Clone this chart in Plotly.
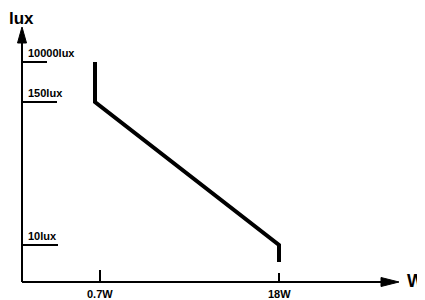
import plotly.graph_objects as go

# schematic coordinates (x: 0..425 left->right, y: 0..300 bottom->top)
lux_labels = ["10lux", "150lux", "10000lux"]
lux_levels = [55, 198, 238]
watt_labels = ["0.7W", "18W"]
watt_positions = [100, 279]

curve_x = [95, 95, 279, 279]
curve_y = [238, 198, 55, 38]

origin_x, origin_y = 22, 18
x_axis_end = 399
y_axis_end = 273
lux_tick_ends = [58, 57, 47]
watt_tick_tops = [30, 27]

FONT = "Liberation Sans, Arial, sans-serif"
BODY_MARGIN = 8  # default page margin of the html body

fig = go.Figure()

# curve
fig.add_trace(go.Scatter(x=curve_x, y=curve_y, mode="lines",
                         line=dict(color="black", width=4), hoverinfo="skip"))

# axis lines
fig.add_trace(go.Scatter(x=[origin_x, x_axis_end - 14], y=[origin_y, origin_y], mode="lines",
                         line=dict(color="black", width=2), hoverinfo="skip"))
fig.add_trace(go.Scatter(x=[origin_x, origin_x], y=[origin_y, y_axis_end - 12], mode="lines",
                         line=dict(color="black", width=2), hoverinfo="skip"))

shapes = [
    dict(type="path", xref="x", yref="y",
         path=f"M {x_axis_end-18},{origin_y+4.5} L {x_axis_end},{origin_y} L {x_axis_end-18},{origin_y-4.5} Z",
         fillcolor="black", line=dict(color="black", width=1)),
    dict(type="path", xref="x", yref="y",
         path=f"M {origin_x-4.5},{y_axis_end-16} L {origin_x},{y_axis_end} L {origin_x+4.5},{y_axis_end-16} Z",
         fillcolor="black", line=dict(color="black", width=1)),
]

# lux ticks
for lvl, end in zip(lux_levels, lux_tick_ends):
    fig.add_trace(go.Scatter(x=[origin_x, end], y=[lvl, lvl], mode="lines",
                             line=dict(color="black", width=2), hoverinfo="skip"))
# watt ticks
for pos, top in zip(watt_positions, watt_tick_tops):
    fig.add_trace(go.Scatter(x=[pos, pos], y=[origin_y, top], mode="lines",
                             line=dict(color="black", width=2), hoverinfo="skip"))

annotations = []
for lbl, lvl in zip(lux_labels, lux_levels):
    annotations.append(dict(x=origin_x + 4, y=lvl + 1, text=f"<b>{lbl}</b>", showarrow=False,
                            xanchor="left", yanchor="bottom",
                            font=dict(family=FONT, size=11, color="black")))
for lbl, pos in zip(watt_labels, watt_positions):
    annotations.append(dict(x=pos, y=origin_y - 4, text=f"<b>{lbl}</b>", showarrow=False,
                            xanchor="center", yanchor="top",
                            font=dict(family=FONT, size=11, color="black")))
annotations.append(dict(x=21, y=282, text="<b>lux</b>", showarrow=False,
                        xanchor="center", yanchor="middle",
                        font=dict(family=FONT, size=17, color="black")))
annotations.append(dict(x=415, y=19, text="<b>W</b>", showarrow=False,
                        xanchor="center", yanchor="middle",
                        font=dict(family=FONT, size=18, color="black")))

fig.update_layout(
    width=425 - BODY_MARGIN, height=300 - BODY_MARGIN,
    margin=dict(l=0, r=0, t=0, b=0),
    paper_bgcolor="white", plot_bgcolor="white",
    showlegend=False,
    xaxis=dict(range=[BODY_MARGIN, 425], visible=False, fixedrange=True),
    yaxis=dict(range=[0, 300 - BODY_MARGIN], visible=False, fixedrange=True),
    annotations=annotations,
    shapes=shapes,
)

fig.write_html("out.html")
